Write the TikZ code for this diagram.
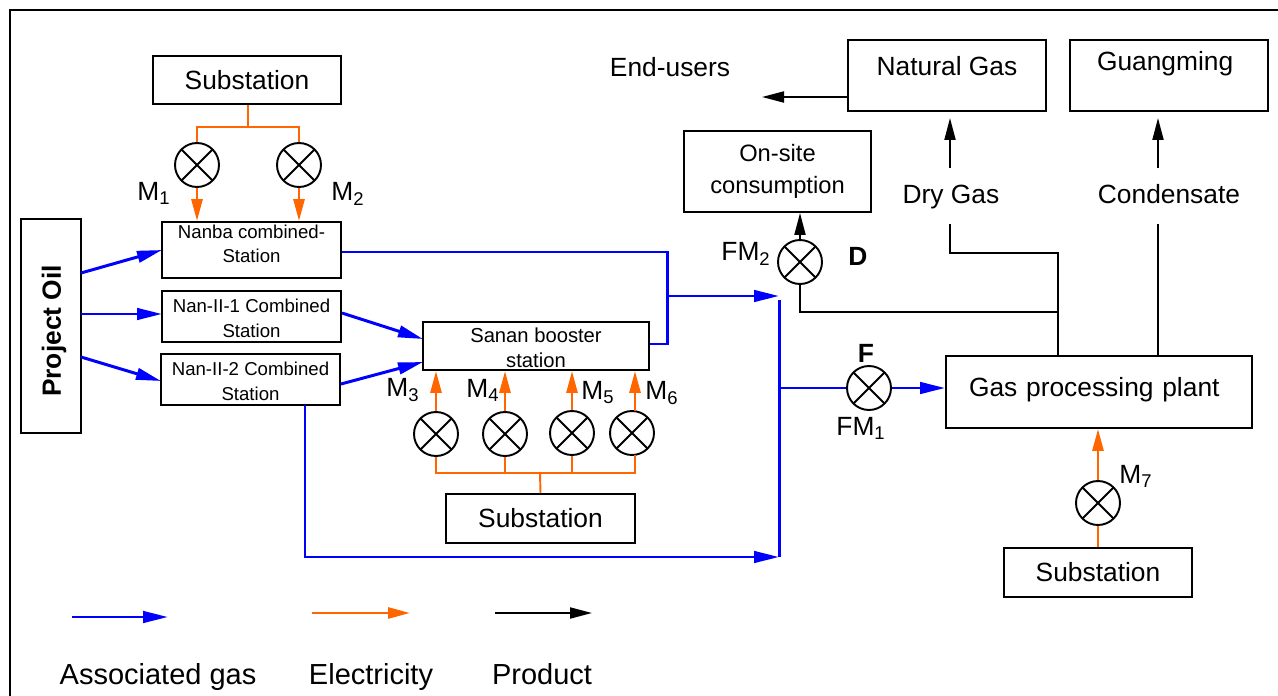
\documentclass[tikz,border=0pt]{standalone}
\usepackage{fontspec}
\setmainfont{Liberation Sans}
\usetikzlibrary{arrows.meta}
\newcommand{\bigfont}{\fontsize{15}{18}\selectfont}
\newcommand{\legendfont}{\fontsize{16.5}{18}\selectfont}
\tikzset{
  stn/.style={draw, line width=1.1pt, inner sep=0pt, align=center, font=\bigfont},
  small/.style={stn, font=\fontsize{10.6}{14}\selectfont},
  meter/.style={circle, draw, line width=1.1pt, minimum size=0.88cm, inner sep=0pt,
    path picture={\draw[line width=1.1pt] (path picture bounding box.north west) -- (path picture bounding box.south east)
      (path picture bounding box.north east) -- (path picture bounding box.south west);}},
  lab/.style={font=\bigfont, inner sep=0pt},
  legend/.style={font=\legendfont, inner sep=0pt, anchor=base},
  gas/.style={draw=blue, line width=1.7pt},
  gasarrow/.style={gas, -{Triangle[length=0.5cm, width=0.23cm]}},
  elec/.style={draw=elecorange, line width=1.6pt},
  elecarrow/.style={elec, -{Triangle[length=0.44cm, width=0.22cm]}},
  prod/.style={draw=black, line width=1.1pt},
  prodarrow/.style={prod, -{Triangle[length=0.44cm, width=0.22cm]}},
}
\definecolor{elecorange}{RGB}{255,102,0}
\begin{document}
\begin{tikzpicture}[x=0.02cm, y=-0.02cm]
    % Fix the page size
    \useasboundingbox (0,0) rectangle (1278,696);
    \draw[line width=1.1pt] (10,700) -- (10,10) -- (1280,10);

    % Left side stations
    \node[stn, minimum width=3.76cm, minimum height=0.96cm] (subtop) at (247,80) {Substation};
    \node[small, minimum width=3.58cm, minimum height=1.12cm, text depth=7pt] (nanba) at (251.5,250) {Nanba combined-\\Station};
    \node[small, minimum width=3.58cm, minimum height=1.02cm, text height=24pt] (nanone) at (251.5,316.5) {Nan-II-1 Combined\\Station};
    \node[small, minimum width=3.58cm, minimum height=1.02cm, text height=24pt] (nantwo) at (250.5,379.5) {Nan-II-2 Combined\\Station};
    \node[stn, minimum width=1.2cm, minimum height=4.28cm] (oil) at (51,326) {};
    \node[lab, rotate=90, font=\bigfont\bfseries] (oiltext) at (54,331) {Project Oil};

    % Booster station and its substation
    \node[stn, font=\fontsize{11.5}{14}\selectfont, minimum width=4.52cm, minimum height=0.96cm, text height=24.6pt] (sanan) at (536,346) {Sanan booster\\station};
    \node[stn, minimum width=3.78cm, minimum height=0.98cm] (submid) at (540.5,518.5) {Substation};

    % Right side
    \node[stn, minimum width=6.12cm, minimum height=1.44cm, text depth=5.6pt, text width=5.2cm, align=left] (plant) at (1099,392) {Gas processing plant};
    \node[stn, minimum width=3.76cm, minimum height=0.98cm] (subright) at (1098,572.5) {Substation};
    \node[stn, font=\fontsize{13.5}{18}\selectfont, minimum width=3.74cm, minimum height=1.62cm] (onsite) at (777.5,171.5) {On-site\\consumption};
    \node[stn, minimum width=3.96cm, minimum height=1.42cm, text depth=11pt] (natgas) at (947,75.5) {Natural Gas};
    \node[stn, minimum width=3.96cm, minimum height=1.42cm, text depth=16pt, text width=2.88cm, align=left] (guang) at (1169,75.5) {Guangming};

    % Meters
    \node[meter] (mone) at (197,165) {};
    \node[meter] (mtwo) at (299,165) {};
    \node[meter] (mthree) at (436,434) {};
    \node[meter] (mfour) at (505,434) {};
    \node[meter] (mfive) at (572,433) {};
    \node[meter] (msix) at (632,433) {};
    \node[meter] (mseven) at (1098,503) {};
    \node[meter] (fmone) at (869,388) {};
    \node[meter] (fmtwo) at (800,262) {};

    % Meter labels
    \node[lab] (lmone) at (154,193) {M\textsubscript{1}};
    \node[lab] (lmtwo) at (348,194) {M\textsubscript{2}};
    \node[lab] (lmthree) at (403,390) {M\textsubscript{3}};
    \node[lab] (lmfour) at (483,390) {M\textsubscript{4}};
    \node[lab] (lmfive) at (598,393) {M\textsubscript{5}};
    \node[lab] (lmsix) at (662,393) {M\textsubscript{6}};
    \node[lab] (lmseven) at (1136,476) {M\textsubscript{7}};
    \node[lab] (lfmone) at (861,428) {FM\textsubscript{1}};
    \node[lab] (lfmtwo) at (746,254) {FM\textsubscript{2}};
    \node[lab, font=\bigfont\bfseries] (lf) at (866,353) {F};
    \node[lab, font=\bigfont\bfseries] (ld) at (858,256) {D};

    % Product names
    \node[lab] (endusers) at (670,67) {End-users};
    \node[lab] (drygas) at (951,197) {Dry Gas};
    \node[lab] (condensate) at (1169,194) {Condensate};

    % Electricity
    \coordinate (bustop) at (248,127);
    \draw[elec, line width=1.1pt] (subtop.south -| bustop) -- (bustop);
    \draw[elec] (mone.north) |- (bustop) -| (mtwo.north);
    \draw[elecarrow] (mone.south) -- (mone.south |- nanba.north);
    \draw[elecarrow] (mtwo.south) -- (mtwo.south |- nanba.north);
    \coordinate (busmid) at (540,473);
    \draw[elec, line width=1.1pt] (submid.north) -- (busmid);
    \draw[elec] (mthree.south) |- (busmid);
    \draw[elec] (mfour.south) -- (mfour.south |- busmid);
    \draw[elec] (mfive.south) -- (mfive.south |- busmid);
    \coordinate (msixtop) at (635,411);
    \draw[elec] (busmid) -| (635,455);
    \draw[elecarrow] (mthree.north) -- (mthree.north |- sanan.south);
    \draw[elecarrow] (mfour.north) -- (mfour.north |- sanan.south);
    \draw[elecarrow] (mfive.north) -- (mfive.north |- sanan.south);
    \draw[elecarrow] (msixtop) -- (msixtop |- sanan.south);
    \draw[elec] (subright.north) -- (mseven.south);
    \draw[elecarrow] (mseven.north) -- (mseven.north |- plant.south);

    % Associated gas
    \coordinate (oilone) at (81,273);
    \coordinate (oiltwo) at (81,314);
    \coordinate (oilthree) at (81,357);
    \coordinate (nanbain) at (162,250);
    \coordinate (nanonein) at (162,314);
    \coordinate (nantwoin) at (161,381);
    \draw[gasarrow] (oilone) -- (nanbain);
    \draw[gasarrow] (oiltwo) -- (nanonein);
    \draw[gasarrow] (oilthree) -- (nantwoin);
    \coordinate (sananinone) at (423,339);
    \coordinate (sananintwo) at (423,362);
    \draw[gasarrow] (nanone.east |- 0,313) -- (sananinone);
    \draw[gasarrow] (nantwo.east |- 0,384) -- (sananintwo);
    \coordinate (riser) at (667,296);
    \coordinate (header) at (779,296);
    \coordinate (headerend) at (779,557);
    \draw[gas] (nanba.east |- 0,252) -| (667,344) -- (sanan.east |- 0,344);
    \draw[gasarrow] (riser) -- (header);
    \draw[gas] (header |- 0,300) -- (headerend);
    \draw[gasarrow] (305,405) |- (headerend);
    \draw[gas] (header |- fmone) -- (fmone.west);
    \draw[gasarrow] (fmone.east) -- (plant.west |- fmone);

    % Product
    \coordinate (split) at (1058,312);
    \coordinate (drytop) at (950,224);
    \coordinate (drygasout) at (950,168);
    \coordinate (condtop) at (1158,224);
    \coordinate (condout) at (1158,168);
    \draw[prodarrow] (fmtwo.north) -- (onsite.south -| fmtwo);
    \draw[prod] (fmtwo.south) |- (split);
    \draw[prod] (plant.north -| split) -- (split) -- (1058,253) -| (drytop);
    \draw[prod] (plant.north -| condtop) -- (condtop);
    \draw[prodarrow] (drygasout) -- (950,118);
    \draw[prodarrow] (condout) -- (1158,118);
    \coordinate (endtip) at (762,97);
    \draw[prodarrow] (natgas.west |- endtip) -- (endtip);

    % Legend
    \coordinate (gasstart) at (72,617);
    \coordinate (gasend) at (168,617);
    \coordinate (elecstart) at (312,613);
    \coordinate (elecend) at (410,613);
    \coordinate (prodstart) at (495,613);
    \coordinate (prodend) at (592,613);
    \draw[gasarrow] (gasstart) -- (gasend);
    \draw[elecarrow] (elecstart) -- (elecend);
    \draw[prodarrow] (prodstart) -- (prodend);
    \node[legend] (leggas) at (158,684) {Associated gas};
    \node[legend] (legelec) at (371,684) {Electricity};
    \node[legend] (legprod) at (542,684) {Product};
\end{tikzpicture}
\end{document}
